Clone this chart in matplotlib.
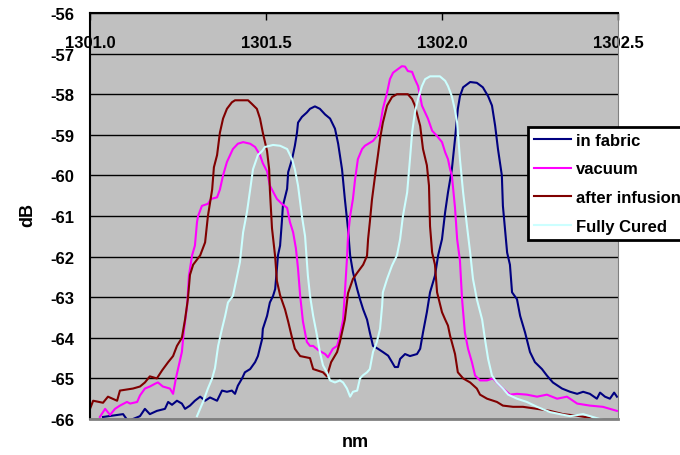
import matplotlib
matplotlib.use("Agg")
import matplotlib.pyplot as plt

plt.rcParams['font.family'] = ['Liberation Sans', 'DejaVu Sans']
plt.rcParams['font.weight'] = 'bold'

# wavelength (nm) / level (dB)
fab_wl = [1301.037, 1301.094, 1301.108, 1301.142, 1301.156, 1301.170, 1301.190, 1301.213, 1301.222, 1301.233,
          1301.247, 1301.261, 1301.270, 1301.284, 1301.298, 1301.313, 1301.327, 1301.341, 1301.361, 1301.375,
          1301.389, 1301.403, 1301.412, 1301.420, 1301.432, 1301.440, 1301.455, 1301.469, 1301.477, 1301.489,
          1301.491, 1301.503, 1301.511, 1301.520, 1301.526, 1301.531, 1301.534, 1301.540, 1301.545, 1301.548,
          1301.560, 1301.563, 1301.574, 1301.582, 1301.588, 1301.591, 1301.602, 1301.616, 1301.625, 1301.639,
          1301.653, 1301.668, 1301.682, 1301.696, 1301.705, 1301.716, 1301.724, 1301.733, 1301.739, 1301.747,
          1301.759, 1301.767, 1301.776, 1301.787, 1301.795, 1301.804, 1301.818, 1301.832, 1301.847, 1301.858,
          1301.866, 1301.875, 1301.881, 1301.895, 1301.909, 1301.929, 1301.938, 1301.946, 1301.957, 1301.966,
          1301.980, 1301.989, 1302.000, 1302.009, 1302.017, 1302.028, 1302.037, 1302.045, 1302.051, 1302.060,
          1302.080, 1302.099, 1302.116, 1302.131, 1302.142, 1302.151, 1302.159, 1302.170, 1302.173, 1302.185,
          1302.193, 1302.199, 1302.213, 1302.222, 1302.236, 1302.250, 1302.264, 1302.284, 1302.298, 1302.315,
          1302.341, 1302.364, 1302.384, 1302.401, 1302.420, 1302.440, 1302.449, 1302.463, 1302.477, 1302.489,
          1302.497]
fab_db = [-65.95, -65.88, -66.05, -65.93, -65.75, -65.88, -65.80, -65.75, -65.58, -65.65,
          -65.55, -65.62, -65.75, -65.67, -65.55, -65.45, -65.55, -65.47, -65.55, -65.30,
          -65.33, -65.30, -65.38, -65.18, -65.00, -64.85, -64.77, -64.60, -64.45, -64.03,
          -63.78, -63.46, -63.13, -62.97, -62.80, -62.30, -61.97, -61.73, -61.15, -60.75,
          -60.33, -59.92, -59.60, -59.27, -58.95, -58.70, -58.56, -58.45, -58.36, -58.30,
          -58.36, -58.50, -58.60, -58.85, -59.22, -59.85, -60.58, -61.32, -61.97, -62.38,
          -62.80, -63.05, -63.30, -63.55, -63.87, -64.20, -64.27, -64.35, -64.44, -64.60,
          -64.72, -64.72, -64.52, -64.40, -64.45, -64.40, -64.27, -63.87, -63.37, -62.88,
          -62.47, -61.97, -61.57, -60.90, -60.42, -59.85, -59.10, -58.36, -58.05, -57.83,
          -57.70, -57.72, -57.83, -58.05, -58.28, -58.78, -59.35, -60.00, -60.75, -61.90,
          -62.20, -62.88, -63.05, -63.46, -63.87, -64.35, -64.60, -64.77, -64.93, -65.10,
          -65.25, -65.33, -65.38, -65.33, -65.38, -65.50, -65.35, -65.45, -65.50, -65.35,
          -65.45]

vac_wl = [1301.028, 1301.043, 1301.057, 1301.071, 1301.085, 1301.105, 1301.114, 1301.134, 1301.142, 1301.156,
          1301.170, 1301.185, 1301.193, 1301.207, 1301.227, 1301.236, 1301.244, 1301.250, 1301.261, 1301.267,
          1301.276, 1301.281, 1301.290, 1301.298, 1301.304, 1301.307, 1301.318, 1301.335, 1301.344, 1301.361,
          1301.369, 1301.378, 1301.389, 1301.398, 1301.406, 1301.420, 1301.435, 1301.455, 1301.469, 1301.483,
          1301.491, 1301.503, 1301.511, 1301.520, 1301.531, 1301.545, 1301.560, 1301.568, 1301.577, 1301.585,
          1301.591, 1301.597, 1301.605, 1301.616, 1301.625, 1301.634, 1301.648, 1301.668, 1301.676, 1301.690,
          1301.702, 1301.710, 1301.719, 1301.724, 1301.730, 1301.733, 1301.739, 1301.747, 1301.753, 1301.761,
          1301.773, 1301.781, 1301.804, 1301.815, 1301.824, 1301.832, 1301.844, 1301.852, 1301.861, 1301.875,
          1301.886, 1301.895, 1301.903, 1301.915, 1301.923, 1301.932, 1301.938, 1301.943, 1301.952, 1301.960,
          1301.972, 1301.986, 1302.000, 1302.009, 1302.017, 1302.023, 1302.028, 1302.037, 1302.043, 1302.051,
          1302.057, 1302.065, 1302.074, 1302.085, 1302.094, 1302.108, 1302.128, 1302.145, 1302.159, 1302.173,
          1302.193, 1302.213, 1302.241, 1302.270, 1302.298, 1302.327, 1302.355, 1302.384, 1302.420, 1302.457,
          1302.497]
vac_db = [-65.95, -65.75, -65.90, -65.75, -65.67, -65.58, -65.62, -65.58, -65.42, -65.25,
          -65.20, -65.13, -65.10, -65.20, -65.25, -65.38, -65.00, -64.77, -64.35, -63.80,
          -63.20, -62.47, -61.97, -61.73, -61.15, -61.00, -60.75, -60.70, -60.58, -60.54,
          -60.35, -60.00, -59.67, -59.50, -59.35, -59.22, -59.18, -59.22, -59.30, -59.50,
          -59.70, -59.90, -60.25, -60.40, -60.58, -60.70, -60.80, -61.15, -61.40, -61.80,
          -62.30, -62.96, -63.60, -64.10, -64.20, -64.20, -64.30, -64.40, -64.48, -64.27,
          -64.20, -63.95, -63.55, -62.90, -62.05, -61.50, -61.00, -60.58, -60.10, -59.60,
          -59.35, -59.27, -59.15, -59.03, -58.78, -58.36, -57.96, -57.63, -57.47, -57.38,
          -57.31, -57.32, -57.43, -57.45, -57.63, -57.80, -58.05, -58.28, -58.45, -58.60,
          -58.90, -59.03, -59.18, -59.43, -59.60, -59.85, -60.00, -60.80, -61.57, -62.10,
          -63.05, -63.87, -64.27, -64.60, -64.93, -65.05, -65.05, -65.00, -65.13, -65.25,
          -65.40, -65.38, -65.40, -65.45, -65.40, -65.50, -65.45, -65.62, -65.67, -65.70,
          -65.80]

inf_wl = [1301.000, 1301.009, 1301.037, 1301.051, 1301.077, 1301.085, 1301.122, 1301.142, 1301.156, 1301.170,
          1301.190, 1301.205, 1301.222, 1301.236, 1301.247, 1301.261, 1301.270, 1301.278, 1301.284, 1301.293,
          1301.313, 1301.327, 1301.335, 1301.347, 1301.352, 1301.361, 1301.369, 1301.378, 1301.389, 1301.403,
          1301.412, 1301.449, 1301.460, 1301.474, 1301.483, 1301.491, 1301.503, 1301.509, 1301.511, 1301.517,
          1301.526, 1301.531, 1301.540, 1301.554, 1301.563, 1301.574, 1301.582, 1301.597, 1301.625, 1301.634,
          1301.662, 1301.673, 1301.685, 1301.702, 1301.710, 1301.724, 1301.733, 1301.747, 1301.759, 1301.776,
          1301.787, 1301.790, 1301.795, 1301.801, 1301.810, 1301.818, 1301.824, 1301.832, 1301.844, 1301.858,
          1301.872, 1301.903, 1301.915, 1301.923, 1301.938, 1301.946, 1301.957, 1301.963, 1301.966, 1301.972,
          1301.980, 1301.986, 1302.000, 1302.009, 1302.017, 1302.023, 1302.037, 1302.045, 1302.060, 1302.080,
          1302.099, 1302.108, 1302.128, 1302.156, 1302.173, 1302.202, 1302.230, 1302.270, 1302.307, 1302.344,
          1302.384, 1302.420, 1302.440]
inf_db = [-65.75, -65.55, -65.60, -65.45, -65.55, -65.30, -65.25, -65.20, -65.10, -64.95,
          -65.00, -64.80, -64.60, -64.45, -64.20, -64.00, -63.55, -63.05, -62.45, -62.20,
          -61.97, -61.65, -61.00, -60.35, -59.80, -59.50, -58.95, -58.60, -58.36, -58.20,
          -58.15, -58.15, -58.24, -58.36, -58.60, -58.95, -59.40, -59.85, -60.35, -61.30,
          -62.00, -62.60, -62.95, -63.30, -63.60, -64.00, -64.27, -64.45, -64.50, -64.77,
          -64.85, -64.95, -64.60, -64.35, -64.10, -63.55, -62.90, -62.55, -62.40, -62.20,
          -61.98, -61.57, -61.15, -60.60, -60.00, -59.50, -59.10, -58.70, -58.28, -58.07,
          -58.00, -58.00, -58.12, -58.28, -58.78, -59.35, -59.75, -60.25, -61.25, -61.90,
          -62.20, -62.88, -63.37, -63.55, -63.70, -63.95, -64.40, -64.85, -65.00, -65.10,
          -65.25, -65.40, -65.50, -65.58, -65.67, -65.70, -65.70, -65.75, -65.80, -65.88,
          -65.92, -65.97, -66.10]

cur_wl = [1301.304, 1301.321, 1301.335, 1301.347, 1301.355, 1301.364, 1301.375, 1301.384, 1301.392, 1301.406,
          1301.418, 1301.426, 1301.435, 1301.446, 1301.455, 1301.463, 1301.477, 1301.489, 1301.497, 1301.511,
          1301.520, 1301.540, 1301.560, 1301.574, 1301.582, 1301.591, 1301.602, 1301.611, 1301.619, 1301.625,
          1301.634, 1301.645, 1301.653, 1301.662, 1301.673, 1301.682, 1301.696, 1301.710, 1301.719, 1301.730,
          1301.739, 1301.747, 1301.759, 1301.767, 1301.776, 1301.787, 1301.795, 1301.804, 1301.815, 1301.824,
          1301.830, 1301.832, 1301.844, 1301.858, 1301.872, 1301.881, 1301.889, 1301.901, 1301.909, 1301.915,
          1301.923, 1301.932, 1301.943, 1301.952, 1301.966, 1301.994, 1302.009, 1302.017, 1302.028, 1302.037,
          1302.043, 1302.051, 1302.060, 1302.071, 1302.080, 1302.088, 1302.099, 1302.114, 1302.122, 1302.131,
          1302.142, 1302.156, 1302.173, 1302.188, 1302.213, 1302.241, 1302.270, 1302.307, 1302.335, 1302.364,
          1302.401, 1302.440, 1302.469]
cur_db = [-65.93, -65.58, -65.25, -65.00, -64.75, -64.20, -63.78, -63.46, -63.13, -62.97,
          -62.47, -62.13, -61.40, -60.90, -60.35, -59.85, -59.50, -59.40, -59.30, -59.27,
          -59.25, -59.27, -59.35, -59.60, -59.85, -60.25, -61.00, -61.50, -62.47, -62.96,
          -63.46, -63.95, -64.35, -64.68, -64.85, -65.05, -65.10, -65.05, -65.10, -65.25,
          -65.45, -65.33, -65.30, -65.00, -64.92, -64.85, -64.77, -64.35, -64.10, -63.78,
          -63.20, -62.88, -62.55, -62.22, -61.97, -61.57, -61.00, -60.42, -59.60, -58.95,
          -58.45, -58.12, -57.80, -57.63, -57.56, -57.56, -57.67, -57.80, -58.05, -58.40,
          -58.70, -59.60, -60.42, -61.25, -61.90, -62.55, -63.05, -63.55, -64.03, -64.52,
          -64.93, -65.10, -65.25, -65.40, -65.50, -65.58, -65.70, -65.83, -65.88, -65.93,
          -65.88, -65.98, -66.05]

x_ticks = [1301.0, 1301.5, 1302.0, 1302.5]
y_ticks = [-66, -65, -64, -63, -62, -61, -60, -59, -58, -57, -56]

fig = plt.figure(figsize=(6.8, 4.56), dpi=100)
ax = fig.add_axes([90/680, 36/456, 528/680, 406/456])
ax.set_facecolor('#c0c0c0')

ax.plot(fab_wl, fab_db, color='#000080', lw=1.5, label='in fabric')
ax.plot(vac_wl, vac_db, color='#ff00ff', lw=1.5, label='vacuum')
ax.plot(inf_wl, inf_db, color='#800000', lw=1.5, label='after infusion')
ax.plot(cur_wl, cur_db, color='#ccffff', lw=1.5, label='Fully Cured')

ax.set_xlim(1301.0, 1302.5)
ax.set_ylim(-66, -56)
ax.set_yticks(y_ticks)
ax.set_yticklabels([str(v) for v in y_ticks])
ax.set_xticks(x_ticks)
ax.set_xticklabels(['%.1f' % v for v in x_ticks])
ax.xaxis.tick_top()
ax.tick_params(axis='x', direction='in', length=5, width=1, pad=-27, labelsize=12)
ax.tick_params(axis='y', length=0, pad=11, labelsize=12)
for lab in ax.get_xticklabels() + ax.get_yticklabels():
    lab.set_fontweight('bold')

ax.grid(axis='y', color='black', lw=1)
ax.set_axisbelow(True)

ax.spines['left'].set_linewidth(1.5)
ax.spines['top'].set_linewidth(1.5)
ax.spines['right'].set_color('#808080')
ax.spines['bottom'].set_color('#808080')
ax.spines['bottom'].set_linewidth(2)

fig.text(355/680, 1 - 443/456, 'nm', ha='center', va='center', fontsize=13, fontweight='bold')
fig.text(28/680, 1 - 215/456, 'dB', ha='center', va='center', rotation=90, fontsize=13, fontweight='bold')

leg = fig.legend(loc='upper left', bbox_to_anchor=(528/680, 1 - 128/456), fontsize=12,
                 frameon=True, fancybox=False, framealpha=1, edgecolor='black',
                 handlelength=2.2, handletextpad=0.3, labelspacing=0.82, borderpad=0.35,
                 borderaxespad=0)
leg.get_frame().set_linewidth(2)
for t in leg.get_texts():
    t.set_fontweight('bold')

fig.savefig('out.png', dpi=100)
